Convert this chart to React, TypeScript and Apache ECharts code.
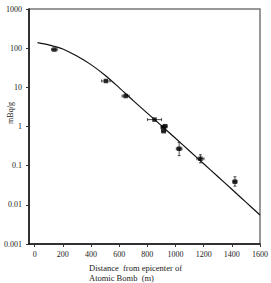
import React, { useEffect, useRef } from "react";
import * as echarts from "echarts";

// Fitted curve (distance m, mBq/g)
const curveX = [20, 100, 200, 300, 400, 500, 600, 700, 800, 900, 1000, 1100, 1200, 1300, 1400, 1500, 1600];
const curveY = [138, 121.6, 95.5, 63, 38, 20.4, 9.8, 4.57, 2.19, 1.05, 0.5, 0.237, 0.112, 0.053, 0.025, 0.0117, 0.0055];

// Measured points
const pointX = [140, 506, 646, 851, 912, 926, 916, 1026, 1177, 1422];
const pointY = [92, 14.5, 6.0, 1.5, 0.95, 1.02, 0.76, 0.27, 0.15, 0.039];
const xErr = [20, 30, 25, 50, 15, 15, 15, 20, 25, 15];
const yErrLow = [92, 14.5, 6.0, 1.5, 0.95, 1.02, 0.76, 0.18, 0.118, 0.030];
const yErrHigh = [92, 14.5, 6.0, 1.5, 0.95, 1.02, 0.76, 0.39, 0.19, 0.052];

const xTicks = [0, 200, 400, 600, 800, 1000, 1200, 1400, 1600];
const yTickLabels = ["0.001", "0.01", "0.1", "1", "10", "100", "1000"];

const FONT = "Liberation Serif";

export default function App() {
  const ref = useRef<HTMLDivElement>(null);
  useEffect(() => {
    if (!ref.current) return;
    const chart = echarts.init(ref.current, null, { renderer: "svg" });
    const errData = pointX.map((x, i) => [x, pointY[i], x - xErr[i], x + xErr[i], yErrLow[i], yErrHigh[i]]);
    chart.setOption({
      animation: false,
      backgroundColor: "#fff",
      grid: {
        left: 29,
        right: 7,
        top: 9,
        bottom: 39,
        show: true,
        borderColor: "#777",
        borderWidth: 1.5,
      },
      xAxis: {
        type: "value",
        min: -40,
        max: 1600,
        splitLine: { show: false },
        axisLine: { show: true, onZero: false, lineStyle: { color: "#111", width: 1.5 } },
        axisTick: { show: true, length: 3, customValues: xTicks, lineStyle: { color: "#333" } },
        axisLabel: {
          customValues: xTicks,
          fontFamily: FONT,
          fontSize: 8,
          color: "#222",
          margin: 6,
          formatter: (v: number) => String(v),
        },
      },
      yAxis: {
        type: "log",
        logBase: 10,
        min: 0.001,
        max: 1000,
        splitLine: { show: false },
        minorTick: { show: false },
        axisLine: { show: true, onZero: false, lineStyle: { color: "#111", width: 1.5 } },
        axisTick: { show: true, length: 3, lineStyle: { color: "#333" } },
        axisLabel: {
          fontFamily: FONT,
          fontSize: 8,
          color: "#222",
          margin: 7,
          formatter: (v: number) => {
            const idx = Math.round(Math.log10(v)) + 3;
            return yTickLabels[idx] ?? "";
          },
        },
      },
      series: [
        {
          type: "line",
          data: curveX.map((x, i) => [x, curveY[i]]),
          smooth: 0.3,
          showSymbol: false,
          lineStyle: { color: "#111", width: 1.2 },
          z: 2,
        },
        {
          type: "custom",
          data: errData,
          z: 3,
          renderItem: (params: any, api: any) => {
            const x = api.value(0);
            const y = api.value(1);
            const l = api.coord([api.value(2), y]);
            const r = api.coord([api.value(3), y]);
            const b = api.coord([x, api.value(4)]);
            const t = api.coord([x, api.value(5)]);
            const style = { stroke: "#222", lineWidth: 0.8 };
            const children: any[] = [];
            children.push({ type: "line", shape: { x1: l[0], y1: l[1], x2: r[0], y2: r[1] }, style });
            children.push({ type: "line", shape: { x1: l[0], y1: l[1] - 1.5, x2: l[0], y2: l[1] + 1.5 }, style });
            children.push({ type: "line", shape: { x1: r[0], y1: r[1] - 1.5, x2: r[0], y2: r[1] + 1.5 }, style });
            if (Math.abs(b[1] - t[1]) > 1) {
              children.push({ type: "line", shape: { x1: b[0], y1: b[1], x2: t[0], y2: t[1] }, style });
              children.push({ type: "line", shape: { x1: b[0] - 1.5, y1: b[1], x2: b[0] + 1.5, y2: b[1] }, style });
              children.push({ type: "line", shape: { x1: t[0] - 1.5, y1: t[1], x2: t[0] + 1.5, y2: t[1] }, style });
            }
            return { type: "group", children };
          },
        },
        {
          type: "scatter",
          data: pointX.map((x, i) => [x, pointY[i]]),
          symbol: "rect",
          symbolSize: 4.5,
          itemStyle: { color: "#000" },
          z: 4,
        },
      ],
      graphic: [
        {
          type: "text",
          x: 10,
          y: 113,
          rotation: Math.PI / 2,
          style: {
            text: "mBq/g",
            fontFamily: FONT,
            fontSize: 8,
            fill: "#222",
            align: "center",
            verticalAlign: "middle",
          },
        },
        {
          type: "text",
          left: 89,
          top: 263,
          style: {
            text: "Distance  from epicenter of\nAtomic Bomb  (m)",
            fontFamily: FONT,
            fontSize: 8.5,
            lineHeight: 10,
            fill: "#222",
          },
        },
      ],
    });
    return () => chart.dispose();
  }, []);
  return <div ref={ref} style={{ position: "fixed", left: 0, top: 0, width: 271, height: 283 }} />;
}
